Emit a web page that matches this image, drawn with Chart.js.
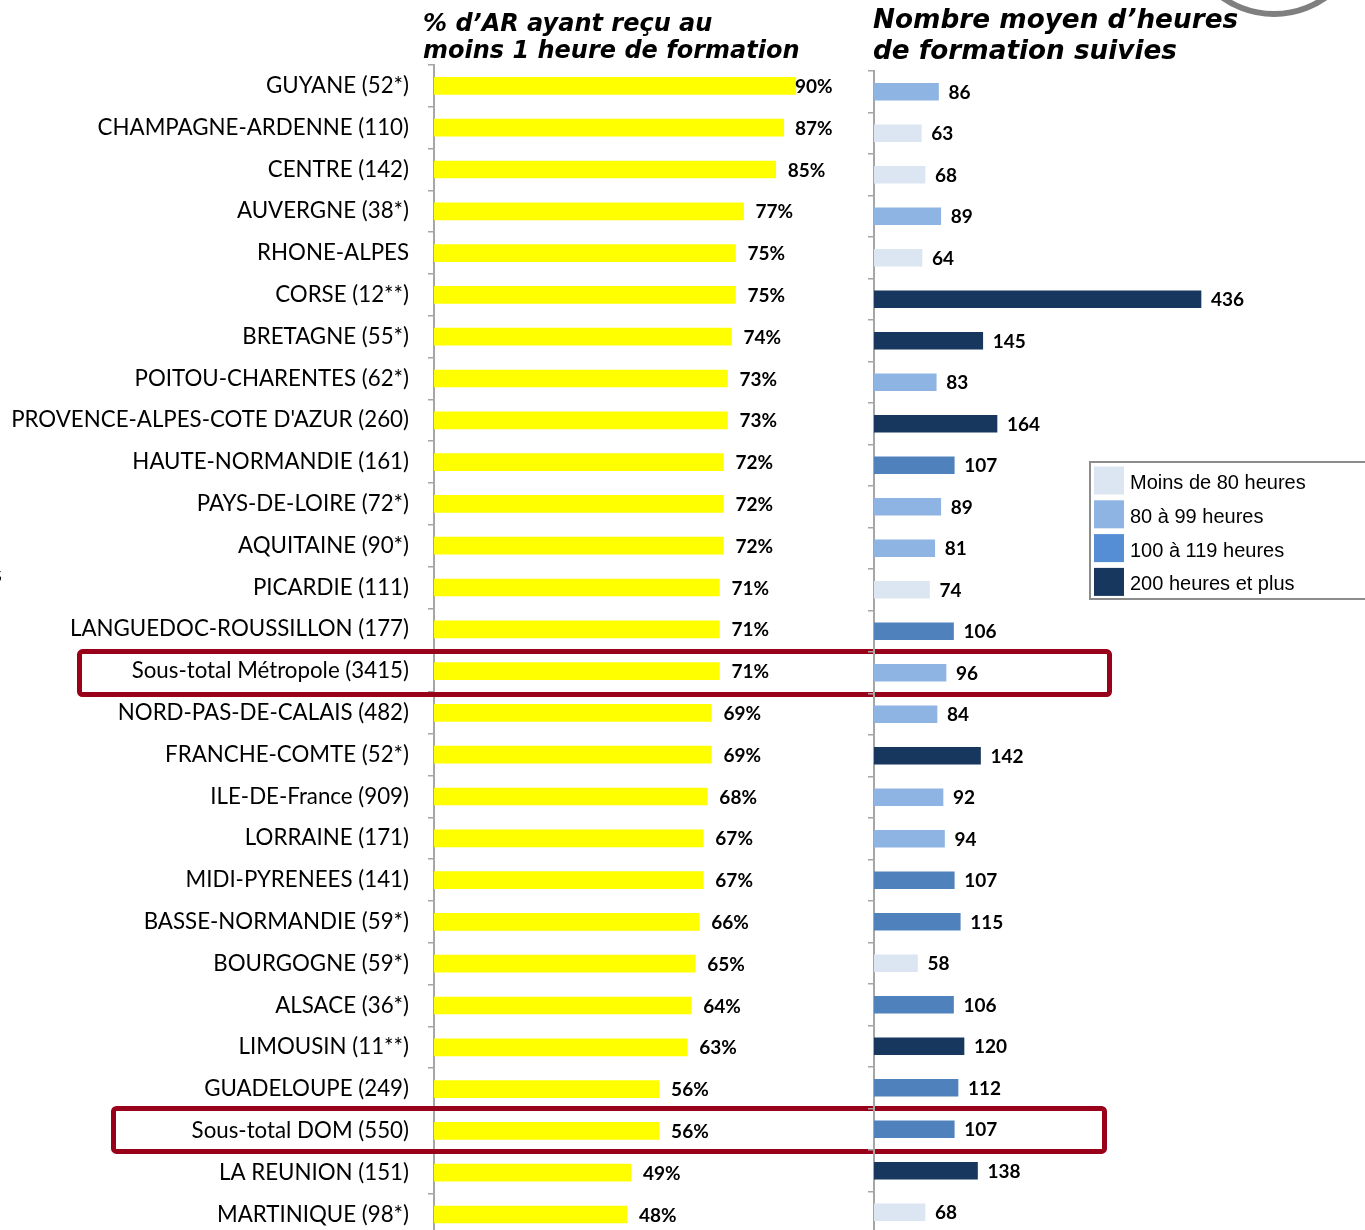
<!DOCTYPE html>
<html>
<head>
<meta charset="utf-8">
<script src="https://cdn.jsdelivr.net/npm/chart.js@4.4.0/dist/chart.umd.min.js"></script>
<style>
  html, body { margin: 0; padding: 0; background: #fff; overflow: hidden; }
  #wrap { position: relative; width: 1365px; height: 1230px; overflow: hidden; }
  canvas { position: absolute; left: 0; top: 0; }
  .title { position: absolute; font-family: "DejaVu Sans", sans-serif; font-weight: bold; font-style: italic; color: #000; white-space: nowrap; }
  #t1 { left: 423px; top: 10px; font-size: 24px; line-height: 27px; }
  #t2 { left: 873px; top: 4px; font-size: 26.3px; line-height: 31px; }
  #cut { position: absolute; left: -8px; top: 559px; font-family: Lato, sans-serif; font-size: 23px; color: #000; }
</style>
</head>
<body>
<div id="wrap">
  <canvas id="left" width="1365" height="1240"></canvas>
  <canvas id="right" width="1365" height="1240"></canvas>
  <div class="title" id="t1">% d’AR ayant reçu au<br>moins 1 heure de formation</div>
  <div class="title" id="t2">Nombre moyen d’heures<br>de formation suivies</div>
  <div id="cut">s</div>
</div>
<script>
// ---------- DATA ----------
const categories = [
  'GUYANE (52*)', 'CHAMPAGNE-ARDENNE (110)', 'CENTRE (142)', 'AUVERGNE (38*)',
  'RHONE-ALPES', 'CORSE (12**)', 'BRETAGNE (55*)', 'POITOU-CHARENTES (62*)',
  "PROVENCE-ALPES-COTE D'AZUR (260)", 'HAUTE-NORMANDIE (161)', 'PAYS-DE-LOIRE (72*)',
  'AQUITAINE (90*)', 'PICARDIE (111)', 'LANGUEDOC-ROUSSILLON (177)',
  'Sous-total Métropole (3415)', 'NORD-PAS-DE-CALAIS (482)', 'FRANCHE-COMTE (52*)',
  'ILE-DE-France (909)', 'LORRAINE (171)', 'MIDI-PYRENEES (141)', 'BASSE-NORMANDIE (59*)',
  'BOURGOGNE (59*)', 'ALSACE (36*)', 'LIMOUSIN (11**)', 'GUADELOUPE (249)',
  'Sous-total DOM (550)', 'LA REUNION (151)', 'MARTINIQUE (98*)'
];
const pctTrained = [90, 87, 85, 77, 75, 75, 74, 73, 73, 72, 72, 72, 71, 71, 71,
                    69, 69, 68, 67, 67, 66, 65, 64, 63, 56, 56, 49, 48];
const avgHours = [86, 63, 68, 89, 64, 436, 145, 83, 164, 107, 89, 81, 74, 106, 96,
                  84, 142, 92, 94, 107, 115, 58, 106, 120, 112, 107, 138, 68];
const legendLabels = ['Moins de 80 heures', '80 à 99 heures', '100 à 119 heures', '200 heures et plus'];
const classThresholds = [80, 100, 120];
const highlighted = ['Sous-total Métropole (3415)', 'Sous-total DOM (550)'];

// ---------- STYLE ----------
const legendColors = ['#DCE6F2', '#8EB4E3', '#558ED5', '#17375E'];
const barClassColors = ['#DCE6F2', '#8EB4E3', '#4F81BD', '#17375E'];
const YELLOW = '#FFFF00';
const AXIS = '#A6A6A6';
const W = 1365, H = 1240;

function classOf(v) {
  let c = 0;
  classThresholds.forEach(t => { if (v >= t) c++; });
  return c;
}
const hourColors = avgHours.map(v => barClassColors[classOf(v)]);

function yAxis(width, showLabels) {
  return {
    type: 'category',
    position: 'left',
    afterFit: s => { s.width = width; s.paddingTop = 0; s.paddingBottom = 0; },
    grid: { offset: true, drawOnChartArea: false, drawTicks: true, tickLength: 6, color: AXIS, lineWidth: 1.5 },
    border: { display: true, color: AXIS, width: 2 },
    ticks: {
      display: showLabels, padding: 19, color: '#000', autoSkip: false,
      font: { family: 'Lato', size: 22.3 }
    }
  };
}

const valueLabels = {
  id: 'valueLabels',
  afterDatasetsDraw(chart, args, opts) {
    const ctx = chart.ctx;
    const meta = chart.getDatasetMeta(0);
    const data = chart.data.datasets[0].data;
    ctx.save();
    ctx.font = 'bold 19px Lato';
    ctx.fillStyle = '#000';
    ctx.textAlign = 'left';
    ctx.textBaseline = 'middle';
    meta.data.forEach((bar, i) => {
      let x = bar.x + opts.offset;
      if (opts.maxX) x = Math.min(x, opts.maxX);
      ctx.fillText(data[i] + opts.suffix, x, bar.y + 1);
    });
    ctx.restore();
  }
};

const highlightBoxes = {
  id: 'highlightBoxes',
  afterDraw(chart, args, opts) {
    const ctx = chart.ctx;
    const ys = chart.scales.y;
    ctx.save();
    ctx.strokeStyle = '#990019';
    ctx.lineWidth = 5;
    opts.boxes.forEach(b => {
      const idx = categories.indexOf(b.name);
      const yc = ys.getPixelForValue(idx) + b.dy;
      ctx.beginPath();
      ctx.roundRect(b.x1, yc - 21.5, b.x2 - b.x1, 43, 3);
      ctx.stroke();
    });
    ctx.restore();
  }
};

const legendBox = {
  id: 'legendBox',
  afterDraw(chart) {
    const ctx = chart.ctx;
    ctx.save();
    // partial circle at the top right
    ctx.strokeStyle = '#7F7F7F';
    ctx.lineWidth = 6;
    ctx.beginPath();
    ctx.arc(1274, -75, 89, 0, Math.PI);
    ctx.stroke();
    // legend
    ctx.strokeStyle = '#8C8C8C';
    ctx.lineWidth = 2;
    ctx.fillStyle = '#fff';
    ctx.fillRect(1090, 462, 290, 137);
    ctx.strokeRect(1090, 462, 290, 137);
    ctx.font = '20px "Liberation Sans", Arial';
    ctx.textBaseline = 'middle';
    ctx.textAlign = 'left';
    legendLabels.forEach((lab, i) => {
      const yc = 480.5 + i * 33.8;
      ctx.fillStyle = legendColors[i];
      ctx.fillRect(1094, yc - 14, 30, 28);
      ctx.fillStyle = '#000';
      ctx.fillText(lab, 1130, yc + 3);
    });
    ctx.restore();
  }
};

function build() {
  // ---- left panel: % trained ----
  const lMax = 100, lPx = 4.02, lLeft = 434, lTop = 65, lRow = 41.8;
  new Chart(document.getElementById('left'), {
    type: 'bar',
    data: {
      labels: categories,
      datasets: [{ data: pctTrained, backgroundColor: YELLOW, barThickness: 17, borderWidth: 0 }]
    },
    options: {
      indexAxis: 'y', responsive: false, animation: false, devicePixelRatio: 1,
      layout: { padding: { left: 0, top: lTop, right: W - (lLeft + lMax * lPx), bottom: H - (lTop + categories.length * lRow) } },
      scales: {
        x: { display: false, min: 0, max: lMax },
        y: yAxis(lLeft, true)
      },
      plugins: {
        legend: { display: false }, tooltip: { enabled: false },
        valueLabels: { offset: 12, suffix: '%', maxX: 795 },
        highlightBoxes: { boxes: [
          { name: highlighted[0], x1: 79.5, x2: 1109.5, dy: 2 },
          { name: highlighted[1], x1: 113.5, x2: 1104.5, dy: -1 }
        ] }
      }
    },
    plugins: [valueLabels, highlightBoxes]
  });

  // ---- right panel: average hours ----
  const rMax = 650, rPx = 0.75, rLeft = 874, rTop = 71, rRow = 41.5;
  new Chart(document.getElementById('right'), {
    type: 'bar',
    data: {
      labels: categories,
      datasets: [{ data: avgHours, backgroundColor: hourColors, barThickness: 17, borderWidth: 0 }]
    },
    options: {
      indexAxis: 'y', responsive: false, animation: false, devicePixelRatio: 1,
      layout: { padding: { left: 0, top: rTop, right: W - (rLeft + rMax * rPx), bottom: H - (rTop + categories.length * rRow) } },
      scales: {
        x: { display: false, min: 0, max: rMax },
        y: yAxis(rLeft, false)
      },
      plugins: {
        legend: { display: false }, tooltip: { enabled: false },
        valueLabels: { offset: 10, suffix: '' }
      }
    },
    plugins: [valueLabels, legendBox]
  });
}

if (document.fonts && document.fonts.load) {
  Promise.all([
    document.fonts.load('22px Lato'), document.fonts.load('bold 19px Lato'),
    document.fonts.load('20px "Liberation Sans"')
  ]).then(build, build);
} else { build(); }
</script>
</body>
</html>
